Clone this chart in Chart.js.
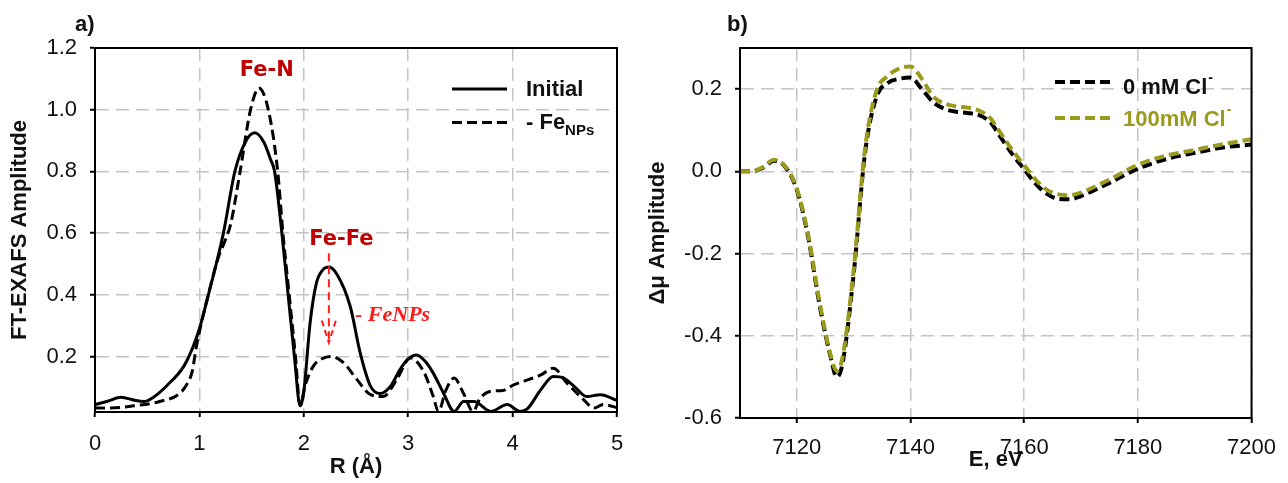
<!DOCTYPE html>
<html>
<head>
<meta charset="utf-8">
<script src="https://cdn.jsdelivr.net/npm/chart.js@4.4.0/dist/chart.umd.min.js"></script>
<style>
  html, body { margin: 0; padding: 0; background: #fff; }
  #wrap { display: flex; width: 1288px; height: 483px; }
  canvas { display: block; }
</style>
</head>
<body>
<div id="wrap">
  <canvas id="exafsChart" width="640" height="483"></canvas>
  <canvas id="xanesChart" width="648" height="483"></canvas>
</div>
<script>
// a) FT-EXAFS amplitude vs R
const rInitial = [0, 0.12, 0.25, 0.38, 0.47, 0.56, 0.69, 0.85, 0.94, 1.0, 1.1, 1.23, 1.34, 1.44, 1.53, 1.62, 1.68,
    1.72, 1.79, 1.85, 1.91, 1.965, 2.0, 2.06, 2.12, 2.18, 2.24, 2.32, 2.445, 2.54, 2.64, 2.73, 2.83, 2.92, 3.0,
    3.08, 3.16, 3.24, 3.34, 3.44, 3.53, 3.63, 3.79, 3.95, 4.07, 4.14, 4.27, 4.39, 4.49, 4.59, 4.71, 4.84, 5.0];
const ampInitial = [0.044, 0.055, 0.068, 0.058, 0.054, 0.068, 0.106, 0.168, 0.232, 0.29, 0.418, 0.6, 0.8, 0.895,
    0.925, 0.893, 0.84, 0.8, 0.6, 0.4, 0.2, 0.04, 0.085, 0.308, 0.437, 0.48, 0.49, 0.465, 0.362, 0.212, 0.103,
    0.08, 0.103, 0.157, 0.192, 0.205, 0.185, 0.146, 0.08, 0.022, 0.054, 0.054, 0.022, 0.044, 0.022, 0.03, 0.092,
    0.135, 0.13, 0.103, 0.07, 0.076, 0.058];
const rNps = [0, 0.15, 0.37, 0.62, 0.81, 0.88, 0.93, 0.97, 1.02, 1.1, 1.18, 1.24, 1.3, 1.39, 1.49, 1.57, 1.66,
    1.75, 1.8, 1.86, 1.92, 1.965, 2.01, 2.09, 2.17, 2.26, 2.38, 2.51, 2.64, 2.76, 2.89, 3.02, 3.15, 3.24, 3.29,
    3.36, 3.44, 3.53, 3.62, 3.69, 3.79, 3.91, 4.01, 4.11, 4.27, 4.39, 4.52, 4.68, 4.78, 4.87, 5.0];
const ampNps = [0.033, 0.033, 0.04, 0.054, 0.08, 0.11, 0.15, 0.23, 0.31, 0.42, 0.52, 0.57, 0.63, 0.8, 1.0, 1.07,
    1.0, 0.8, 0.6, 0.4, 0.2, 0.04, 0.103, 0.168, 0.192, 0.2, 0.18, 0.125, 0.076, 0.07, 0.125, 0.195, 0.15, 0.07,
    0.022, 0.09, 0.13, 0.08, 0.022, 0.065, 0.087, 0.09, 0.108, 0.12, 0.14, 0.162, 0.114, 0.06, 0.033, 0.044, 0.034];
const rTicks = [0, 1, 2, 3, 4, 5];
const ampTicks = [0.2, 0.4, 0.6, 0.8, 1.0, 1.2];

// b) delta-mu vs energy
const energy = [7110, 7112, 7114, 7116, 7118, 7120, 7122, 7124, 7126, 7127, 7128, 7130, 7132, 7134, 7136, 7138,
    7140, 7142, 7144, 7146, 7148, 7150, 7152, 7154, 7156, 7158, 7160, 7162, 7164, 7166, 7168, 7170, 7172, 7175,
    7180, 7185, 7190, 7195, 7200];
const mu0 = [0.0, 0.0, 0.008, 0.026, 0.01, -0.045, -0.16, -0.325, -0.455, -0.5, -0.47, -0.25, 0.045, 0.18, 0.215,
    0.225, 0.228, 0.2, 0.168, 0.152, 0.145, 0.142, 0.137, 0.12, 0.08, 0.04, 0.005, -0.03, -0.055, -0.067, -0.068,
    -0.06, -0.048, -0.028, 0.006, 0.03, 0.045, 0.058, 0.065];
const mu100 = [0.0, 0.0, 0.01, 0.028, 0.012, -0.042, -0.155, -0.318, -0.45, -0.485, -0.455, -0.24, 0.055, 0.195,
    0.232, 0.25, 0.255, 0.225, 0.182, 0.165, 0.158, 0.155, 0.148, 0.13, 0.09, 0.05, 0.015, -0.02, -0.045, -0.056,
    -0.058, -0.052, -0.04, -0.02, 0.016, 0.038, 0.052, 0.066, 0.078];
const eTicks = [7120, 7140, 7160, 7180, 7200];
const muTicks = [-0.6, -0.4, -0.2, 0.0, 0.2];

const FONT = "'Liberation Sans', Arial, sans-serif";
const GRID = '#c4c4c4';
const OLIVE = '#9a9a1c';

function pairs(xs, ys) {
    return xs.map((x, i) => ({ x: x, y: ys[i] }));
}

function axis(min, max, ticks, title, size, tickPad, titlePad, fmt) {
    return {
        type: 'linear',
        min: min,
        max: max,
        afterBuildTicks: function(scale) {
            scale.ticks = ticks.map(v => ({ value: v }));
        },
        afterFit: function(scale) {
            if (scale.isHorizontal()) scale.height = size; else scale.width = size;
        },
        grid: { color: GRID, lineWidth: 1.5, tickLength: 5, tickColor: '#000', tickWidth: 2 },
        border: { color: '#000', width: 2, dash: [13, 7] },
        ticks: {
            color: '#111',
            padding: tickPad,
            font: { family: FONT, size: 22 },
            callback: fmt
        },
        title: {
            display: true,
            text: title,
            color: '#111',
            padding: titlePad,
            font: { family: FONT, size: 22, weight: 'bold' }
        }
    };
}

function frame(ctx, a) {
    ctx.save();
    ctx.strokeStyle = '#000';
    ctx.lineWidth = 2;
    ctx.strokeRect(a.left, a.top, a.right - a.left, a.bottom - a.top);
    ctx.restore();
}

function legendLine(ctx, x1, x2, y, color, width, dash) {
    ctx.save();
    ctx.strokeStyle = color;
    ctx.lineWidth = width;
    ctx.setLineDash(dash);
    ctx.beginPath();
    ctx.moveTo(x1, y);
    ctx.lineTo(x2, y);
    ctx.stroke();
    ctx.restore();
}

const panelA = {
    id: 'panelA',
    afterDraw(chart) {
        const { ctx, chartArea, scales: { x, y } } = chart;
        frame(ctx, chartArea);
        ctx.save();
        ctx.textBaseline = 'middle';
        ctx.fillStyle = '#111';
        ctx.font = 'bold 22px ' + FONT;
        ctx.fillText('a)', 75, 25);

        // peak labels
        ctx.fillStyle = '#c00000';
        ctx.textAlign = 'center';
        ctx.font = "bold 21px 'DejaVu Sans'";
        ctx.fillText('Fe-N', x.getPixelForValue(1.646), y.getPixelForValue(1.128));
        ctx.fillText('Fe-Fe', x.getPixelForValue(2.36), y.getPixelForValue(0.578));

        // dashed arrow: Fe-Fe peak drop
        const ax = x.getPixelForValue(2.24);
        const top = y.getPixelForValue(0.535);
        const tip = y.getPixelForValue(0.245);
        ctx.strokeStyle = '#ff1a1a';
        ctx.lineWidth = 2;
        ctx.setLineDash([8, 5]);
        ctx.beginPath();
        ctx.moveTo(ax, top);
        ctx.lineTo(ax, tip);
        ctx.stroke();
        ctx.setLineDash([6, 4]);
        ctx.beginPath();
        ctx.moveTo(ax - 7, tip - 22);
        ctx.lineTo(ax, tip);
        ctx.lineTo(ax + 7, tip - 22);
        ctx.stroke();
        ctx.setLineDash([]);
        ctx.fillStyle = '#ff1a1a';
        ctx.textAlign = 'left';
        ctx.font = "bold italic 22px 'Liberation Serif', 'Times New Roman', serif";
        ctx.fillText('- FeNPs', 355, 315);

        // legend
        legendLine(ctx, 452, 507, 89, '#000', 3, []);
        legendLine(ctx, 452, 507, 122.5, '#000', 3, [10, 5]);
        ctx.fillStyle = '#111';
        ctx.font = 'bold 22px ' + FONT;
        ctx.fillText('Initial', 526, 90);
        ctx.fillText('- Fe', 526, 123);
        const w = ctx.measureText('- Fe').width;
        ctx.font = 'bold 15px ' + FONT;
        ctx.fillText('NPs', 526 + w, 131);
        ctx.restore();
    }
};

const panelB = {
    id: 'panelB',
    afterDraw(chart) {
        const { ctx, chartArea } = chart;
        frame(ctx, chartArea);
        ctx.save();
        ctx.textBaseline = 'middle';
        ctx.fillStyle = '#111';
        ctx.font = 'bold 22px ' + FONT;
        ctx.fillText('b)', 87, 25);

        legendLine(ctx, 415, 470, 82, '#000', 4, [10, 5]);
        legendLine(ctx, 415, 470, 118, OLIVE, 4, [10, 5]);
        const rows = [['0 mM Cl', '#111', 88], ['100mM Cl', OLIVE, 120]];
        rows.forEach(function(r) {
            ctx.fillStyle = r[1];
            ctx.font = 'bold 22px ' + FONT;
            ctx.fillText(r[0], 483, r[2]);
            const w = ctx.measureText(r[0]).width;
            ctx.font = 'bold 14px ' + FONT;
            ctx.fillText('-', 484 + w, r[2] - 10);
        });
        ctx.restore();
    }
};

new Chart(document.getElementById('exafsChart'), {
    type: 'line',
    data: {
        datasets: [
            {
                label: 'Initial',
                data: pairs(rInitial, ampInitial),
                borderColor: '#000',
                borderWidth: 3,
                pointRadius: 0,
                cubicInterpolationMode: 'monotone'
            },
            {
                label: '- FeNPs',
                data: pairs(rNps, ampNps),
                borderColor: '#000',
                borderWidth: 3,
                borderDash: [10, 5],
                pointRadius: 0,
                cubicInterpolationMode: 'monotone'
            }
        ]
    },
    options: {
        responsive: false,
        animation: false,
        layout: { padding: { left: 0, right: 23, top: 48, bottom: 0 } },
        plugins: { legend: { display: false }, tooltip: { enabled: false } },
        scales: {
            x: axis(0, 5, rTicks, 'R (Å)', 71, 14, { top: 0, bottom: 3 }, v => String(v)),
            y: axis(0.02, 1.2, ampTicks, 'FT-EXAFS Amplitude', 95, 13, { top: 7, bottom: 0 }, v => v.toFixed(1))
        }
    },
    plugins: [panelA]
});

new Chart(document.getElementById('xanesChart'), {
    type: 'line',
    data: {
        datasets: [
            {
                label: '100mM Cl-',
                data: pairs(energy, mu100),
                borderColor: OLIVE,
                borderWidth: 4,
                borderDash: [10, 5],
                pointRadius: 0,
                cubicInterpolationMode: 'monotone'
            },
            {
                label: '0 mM Cl-',
                data: pairs(energy, mu0),
                borderColor: '#000',
                borderWidth: 4,
                borderDash: [10, 5],
                pointRadius: 0,
                cubicInterpolationMode: 'monotone'
            }
        ]
    },
    options: {
        responsive: false,
        animation: false,
        layout: { padding: { left: 0, right: 25, top: 48, bottom: 0 } },
        plugins: { legend: { display: false }, tooltip: { enabled: false } },
        scales: {
            x: axis(7110, 7200, eTicks, 'E, eV', 65, 12, { top: 0, bottom: 10 }, v => String(v)),
            y: axis(-0.6, 0.3, muTicks, 'Δμ Amplitude', 100, 13, { top: 5, bottom: 0 }, v => v.toFixed(1))
        }
    },
    plugins: [panelB]
});
</script>
</body>
</html>
